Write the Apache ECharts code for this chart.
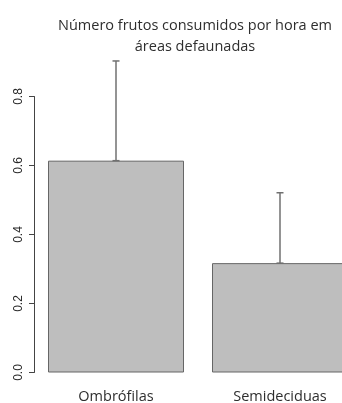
<!DOCTYPE html>
<html>
<head>
<meta charset="utf-8">
<script src="https://cdn.jsdelivr.net/npm/echarts@6/dist/echarts.min.js"></script>
<style>
  html, body { margin: 0; padding: 0; background: #fff; }
  #chart { width: 342px; height: 403px; }
</style>
</head>
<body>
<div id="chart"></div>
<script>
// Fruits eaten per hour in defaunated areas, by forest type
const categories = ['Ombrófilas', 'Semideciduas'];
const means = [0.614, 0.317];
const upper = [0.903, 0.521];
const yTicks = [0, 0.2, 0.4, 0.6, 0.8];

const Y_TOP = 0.92;          // upper limit of the plotting scale
const PX_PER_UNIT = 345;     // vertical scale shared by both grids
const ZERO_Y = 372.5;        // pixel row of the zero line
const BOTTOM = 403 - ZERO_Y;
const LEFT = 34;
const WIDTH = 328;

const chart = echarts.init(document.getElementById('chart'), null, { renderer: 'canvas' });

const sansCal = '"Open Sans", Lato, sans-serif';
const sansAxis = '"Liberation Sans", Arial, sans-serif';

chart.setOption({
  backgroundColor: '#ffffff',
  animation: false,
  title: {
    text: 'Número frutos consumidos por hora em\náreas defaunadas',
    left: 195,
    top: 15,
    padding: 0,
    textAlign: 'center',
    textStyle: {
      fontFamily: sansCal,
      fontSize: 14.5,
      fontWeight: 'normal',
      color: '#2e2e2e',
      lineHeight: 21
    }
  },
  grid: [
    // plotting area for bars and error bars
    { left: LEFT, width: WIDTH, bottom: BOTTOM, top: ZERO_Y - Y_TOP * PX_PER_UNIT, outerBoundsMode: 'none' },
    // axis-only area spanning the labelled range 0 – 0.8
    { left: LEFT, width: WIDTH, bottom: BOTTOM, top: ZERO_Y - yTicks[yTicks.length - 1] * PX_PER_UNIT, outerBoundsMode: 'none' }
  ],
  xAxis: [
    {
      gridIndex: 0,
      type: 'category',
      data: categories,
      axisLine: { show: false },
      axisTick: { show: false },
      axisLabel: {
        fontFamily: sansCal,
        fontSize: 14.5,
        color: '#2e2e2e',
        margin: 17
      }
    },
    { gridIndex: 1, type: 'value', show: false, min: 0, max: 1 }
  ],
  yAxis: [
    { gridIndex: 0, type: 'value', min: 0, max: Y_TOP, show: false },
    {
      gridIndex: 1,
      type: 'value',
      min: 0,
      max: yTicks[yTicks.length - 1],
      interval: 0.2,
      splitLine: { show: false },
      axisLine: { show: true, lineStyle: { color: '#444', width: 1 } },
      axisTick: { show: true, length: 5, lineStyle: { color: '#444', width: 1 } },
      axisLabel: {
        rotate: 90,
        margin: 9,
        fontFamily: sansAxis,
        fontSize: 12,
        color: '#2a2a2a',
        formatter: v => v.toFixed(1)
      }
    }
  ],
  series: [
    {
      type: 'bar',
      xAxisIndex: 0,
      yAxisIndex: 0,
      data: means,
      barWidth: 136,
      itemStyle: { color: '#bebebe', borderColor: '#666', borderWidth: 1 },
      z: 2
    },
    {
      type: 'custom',
      xAxisIndex: 0,
      yAxisIndex: 0,
      data: categories.map((c, i) => [i, means[i], upper[i]]),
      renderItem: function (params, api) {
        const lo = api.coord([api.value(0), api.value(1)]);
        const hi = api.coord([api.value(0), api.value(2)]);
        const half = 3.5;
        const style = { stroke: '#707070', lineWidth: 1.5 };
        return {
          type: 'group',
          children: [
            { type: 'line', shape: { x1: lo[0], y1: lo[1], x2: hi[0], y2: hi[1] }, style },
            { type: 'line', shape: { x1: hi[0] - half, y1: hi[1], x2: hi[0] + half, y2: hi[1] }, style },
            { type: 'line', shape: { x1: lo[0] - half, y1: lo[1], x2: lo[0] + half, y2: lo[1] }, style }
          ]
        };
      },
      z: 3
    }
  ]
});
</script>
</body>
</html>
